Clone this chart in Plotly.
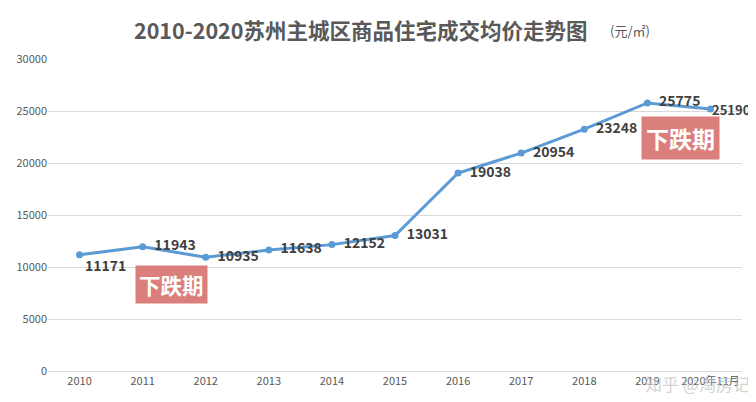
import plotly.graph_objects as go

categories = ["2010", "2011", "2012", "2013", "2014", "2015", "2016", "2017", "2018", "2019", "2020年11月"]
prices = [11171, 11943, 10935, 11638, 12152, 13031, 19038, 20954, 23248, 25775, 25190]
y_ticks = [0, 5000, 10000, 15000, 20000, 25000, 30000]

title_main = "2010-2020苏州主城区商品住宅成交均价走势图"
title_unit = "(元/㎡)"
badge_text = "下跌期"
watermark = "知乎 @淘房记"

FONT = "Noto Sans CJK SC, Microsoft YaHei, sans-serif"
NB = "\u00a0\u00a0"

labels = [str(v) for v in prices]
labels = [labels[0]] + [NB + s for s in labels[1:-1]] + [""]

fig = go.Figure()
fig.add_trace(go.Scatter(
    x=categories, y=prices, mode="lines+markers+text",
    line=dict(color="#5B9BD5", width=3),
    marker=dict(color="#5B9BD5", size=7),
    text=labels,
    textposition=["bottom right"] + ["middle right"] * 10,
    textfont=dict(family=FONT, size=14, color="#404040", weight="bold"),
    cliponaxis=False, showlegend=False, hoverinfo="x+y",
))

fig.update_layout(
    width=748, height=394,
    margin=dict(l=40, r=14, t=51, b=31),
    paper_bgcolor="white", plot_bgcolor="white",
    font=dict(family=FONT, color="#595959", size=11),
    xaxis=dict(type="category", range=[-0.5, 10.5], showgrid=False,
               showline=True, linecolor="#D9D9D9", ticks="", automargin=False,
               tickfont=dict(size=11, color="#595959")),
    yaxis=dict(range=[0, 30000], tickvals=y_ticks, automargin=False,
               ticktext=[str(v) for v in y_ticks], showgrid=True,
               gridcolor="#D9D9D9", zeroline=False, ticks="",
               tickfont=dict(size=11, color="#595959")),
    annotations=[
        dict(xref="paper", yref="paper", x=0.45, y=1.0, yshift=30,
             text="<b>" + title_main + "</b>", showarrow=False,
             font=dict(size=21.5, color="#595959", family=FONT),
             xanchor="center", yanchor="middle"),
        dict(xref="paper", yref="paper", x=0.839, y=1.0, yshift=29,
             text=title_unit, showarrow=False,
             font=dict(size=13, color="#595959", family=FONT),
             xanchor="center", yanchor="middle"),
        dict(xref="x", yref="y", x=categories[-1], y=prices[-1], xshift=0,
             text="<b>" + str(prices[-1]) + "</b>", showarrow=False,
             font=dict(size=13, color="#404040", family=FONT),
             xanchor="left", yanchor="middle"),
        dict(xref="x", yref="y", x=1.45, y=8365, text="<b>" + badge_text + "</b>",
             showarrow=False, bgcolor="#DA7F7B", borderpad=3,
             font=dict(size=21.5, color="white", family=FONT),
             xanchor="center", yanchor="middle"),
        dict(xref="x", yref="y", x=9.52, y=22400, text="<b>" + badge_text + "</b>",
             showarrow=False, bgcolor="#DA7F7B", borderpad=4,
             font=dict(size=23, color="white", family=FONT),
             xanchor="center", yanchor="middle"),
        dict(xref="paper", yref="paper", x=1.0144, y=0, yshift=-12,
             text=watermark, showarrow=False,
             font=dict(size=17, color="rgba(195,195,195,0.75)", family=FONT),
             xanchor="right", yanchor="middle"),
    ],
)

fig.write_html("out.html")
